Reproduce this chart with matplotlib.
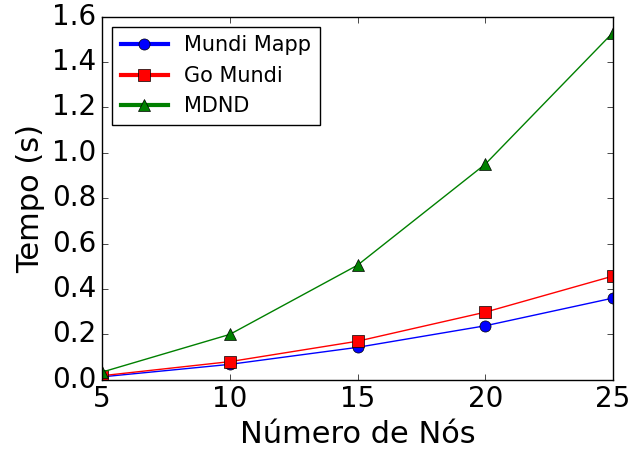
import matplotlib
matplotlib.use("Agg")
import matplotlib.pyplot as plt

plt.style.use("classic")

nodes = [5, 10, 15, 20, 25]
mundi_mapp = [0.013, 0.068, 0.143, 0.238, 0.360]
go_mundi = [0.018, 0.080, 0.170, 0.298, 0.457]
mdnd = [0.034, 0.200, 0.505, 0.950, 1.530]

series_labels = ["Mundi Mapp", "Go Mundi", "MDND"]
xticks = [5, 10, 15, 20, 25]
yticks = [0.0, 0.2, 0.4, 0.6, 0.8, 1.0, 1.2, 1.4, 1.6]

fig = plt.figure(figsize=(6.3, 4.5), dpi=100, facecolor="white")
ax = fig.add_axes([0.162, 0.156, 0.811, 0.807])
ax.set_facecolor("white")

ax.plot(nodes, mundi_mapp, color="blue", marker="o", markersize=8,
        label=series_labels[0])
ax.plot(nodes, go_mundi, color="red", marker="s", markersize=8,
        label=series_labels[1])
ax.plot(nodes, mdnd, color="green", marker="^", markersize=8,
        label=series_labels[2])

ax.set_xlim(5, 25)
ax.set_ylim(0, 1.6)
ax.set_xticks(xticks)
ax.set_yticks(yticks)
ax.set_yticklabels([f"{v:.1f}" for v in yticks])
ax.tick_params(labelsize=20)
ax.set_xlabel("Número de Nós", fontsize=22)
ax.set_ylabel("Tempo (s)", fontsize=22)

leg = ax.legend(loc="upper left", fontsize=15, numpoints=1,
                handlelength=2.25, borderaxespad=0.5)
for line in leg.get_lines():
    line.set_linewidth(3)

fig.savefig("out.png", dpi=100, facecolor="white")
